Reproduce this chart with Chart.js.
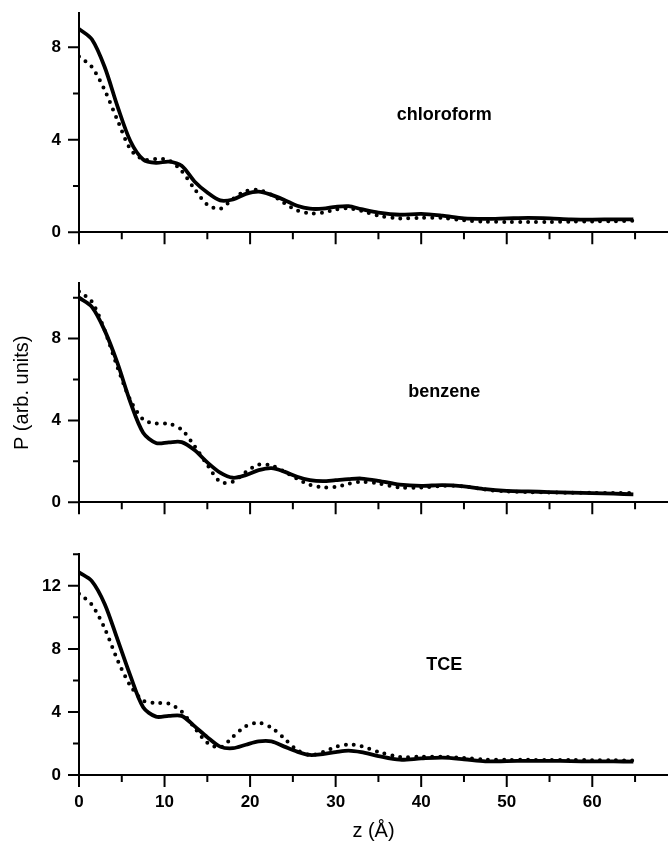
<!DOCTYPE html>
<html>
<head>
<meta charset="utf-8">
<script src="https://cdn.jsdelivr.net/npm/chart.js@4.4.1/dist/chart.umd.min.js"></script>
<style>
  body { margin: 0; background: #fff; }
  #wrap { position: relative; width: 668px; height: 841px; }
  canvas { position: absolute; left: 0; }
</style>
</head>
<body>
<div id="wrap">
  <canvas id="c1" width="668" height="260" style="top:0px"></canvas>
  <canvas id="c2" width="668" height="270" style="top:260px"></canvas>
  <canvas id="c3" width="668" height="311" style="top:530px"></canvas>
</div>
<script>
// z positions (Å) shared by every curve
const zValues = [0, 1.5, 3, 4.5, 6, 7.5, 9, 10.5, 12, 13.5, 15, 16.5, 18, 19.5, 21, 22.5, 24, 25.5,
  27, 28.5, 30, 31.5, 33, 35, 37.5, 40, 42.5, 45, 47.5, 50, 52.5, 55, 57.5, 60, 62.5, 64.8];

const chloroformSolid = [8.8, 8.35, 7.15, 5.45, 3.95, 3.15, 3.0, 3.06, 2.88, 2.2, 1.72, 1.38, 1.42, 1.66, 1.76, 1.62, 1.4, 1.15,
  1.02, 1.02, 1.1, 1.13, 1.0, 0.85, 0.76, 0.8, 0.72, 0.6, 0.58, 0.6, 0.62, 0.6, 0.56, 0.55, 0.56, 0.56];
const chloroformDotted = [7.6, 7.15, 6.15, 4.85, 3.6, 3.15, 3.17, 3.12, 2.65, 1.88, 1.2, 1.02, 1.45, 1.78, 1.83, 1.62, 1.26, 0.95,
  0.82, 0.85, 0.98, 1.04, 0.93, 0.72, 0.6, 0.63, 0.62, 0.52, 0.46, 0.45, 0.45, 0.45, 0.46, 0.47, 0.48, 0.5];

const benzeneSolid = [10.0, 9.55, 8.4, 6.8, 4.9, 3.4, 2.9, 2.93, 2.94, 2.55, 1.95, 1.45, 1.2, 1.33, 1.57, 1.67, 1.5, 1.25,
  1.08, 1.03, 1.08, 1.13, 1.16, 1.05, 0.86, 0.8, 0.84, 0.78, 0.64, 0.56, 0.53, 0.5, 0.47, 0.45, 0.42, 0.39];
const benzeneDotted = [10.3, 9.8, 8.4, 6.6, 5.0, 4.05, 3.85, 3.84, 3.55, 2.75, 1.83, 1.0, 1.01, 1.48, 1.84, 1.8, 1.5, 1.15,
  0.85, 0.73, 0.75, 0.9, 1.0, 0.92, 0.72, 0.72, 0.8, 0.78, 0.62, 0.53, 0.5, 0.48, 0.47, 0.46, 0.45, 0.45];

const tceSolid = [12.85, 12.3, 10.85, 8.6, 6.3, 4.3, 3.7, 3.75, 3.75, 3.1, 2.4, 1.8, 1.7, 1.92, 2.13, 2.13, 1.8, 1.48,
  1.27, 1.33, 1.45, 1.55, 1.45, 1.2, 0.97, 1.05, 1.1, 1.0, 0.87, 0.88, 0.9, 0.9, 0.88, 0.86, 0.86, 0.85];
const tceDotted = [11.5, 10.8, 9.3, 7.3, 5.67, 4.72, 4.57, 4.52, 4.02, 3.0, 2.05, 1.75, 2.43, 3.1, 3.32, 3.0, 2.32, 1.58,
  1.27, 1.45, 1.78, 1.93, 1.83, 1.47, 1.15, 1.16, 1.16, 1.08, 0.98, 0.96, 0.96, 0.95, 0.95, 0.94, 0.93, 0.92];

const xMajorTicks = [0, 10, 20, 30, 40, 50, 60];
const xMinorTicks = [5, 15, 25, 35, 45, 55, 65];

Chart.defaults.font.family = '"Liberation Sans", Arial, sans-serif';
Chart.defaults.color = '#000';

// tick marks (long/short) and the solvent name, placed through the chart scales
const decorPlugin = {
  id: 'decor',
  afterDraw(chart, args, opts) {
    const ctx = chart.ctx;
    const xs = chart.scales.x, ys = chart.scales.y;
    const area = chart.chartArea;
    ctx.save();
    ctx.strokeStyle = '#000';
    ctx.lineWidth = 2;
    ctx.beginPath();
    xMajorTicks.forEach(v => { const p = xs.getPixelForValue(v); ctx.moveTo(p, area.bottom); ctx.lineTo(p, area.bottom + 12); });
    xMinorTicks.forEach(v => { const p = xs.getPixelForValue(v); ctx.moveTo(p, area.bottom); ctx.lineTo(p, area.bottom + 7); });
    opts.yMajor.forEach(v => { const p = ys.getPixelForValue(v); ctx.moveTo(area.left, p); ctx.lineTo(area.left - 11, p); });
    opts.yMinor.forEach(v => { const p = ys.getPixelForValue(v); ctx.moveTo(area.left, p); ctx.lineTo(area.left - 6, p); });
    ctx.stroke();
    ctx.font = 'bold 18px "Liberation Sans", Arial, sans-serif';
    ctx.fillStyle = '#000';
    ctx.textAlign = 'center';
    ctx.textBaseline = 'middle';
    ctx.fillText(opts.name, xs.getPixelForValue(opts.labelAt[0]), ys.getPixelForValue(opts.labelAt[1]));
    ctx.restore();
  }
};

const panels = [
  { id: 'c1', name: 'chloroform', solid: chloroformSolid, dotted: chloroformDotted, yMax: 9.5,
    yMajor: [0, 4, 8], yMinor: [2, 6], padTop: 12.7, xHeight: 27.7, last: false, labelAt: [42.7, 5.08] },
  { id: 'c2', name: 'benzene', solid: benzeneSolid, dotted: benzeneDotted, yMax: 10.7,
    yMajor: [0, 4, 8], yMinor: [2, 6, 10], padTop: 23.3, xHeight: 27.7, last: false, labelAt: [42.7, 5.4], yTitle: true },
  { id: 'c3', name: 'TCE', solid: tceSolid, dotted: tceDotted, yMax: 14,
    yMajor: [0, 4, 8, 12], yMinor: [2, 6, 10, 14], padTop: 24.3, xHeight: 66, last: true, labelAt: [42.7, 7.0] }
];

panels.forEach(p => {
  new Chart(document.getElementById(p.id), {
    type: 'line',
    data: {
      datasets: [
        {
          data: zValues.map((z, i) => ({ x: z, y: p.solid[i] })),
          borderColor: '#000',
          borderWidth: 3.8,
          pointRadius: 0,
          tension: 0.3
        },
        {
          data: zValues.map((z, i) => ({ x: z, y: p.dotted[i] })),
          borderColor: '#000',
          borderWidth: 4,
          borderDash: [0, 8],
          borderCapStyle: 'round',
          pointRadius: 0,
          tension: 0.3
        }
      ]
    },
    options: {
      responsive: false,
      animation: false,
      layout: { padding: { top: p.padTop, left: 0, right: 0, bottom: 0 } },
      plugins: {
        legend: { display: false },
        tooltip: { enabled: false },
        decor: { name: p.name, yMajor: p.yMajor, yMinor: p.yMinor, labelAt: p.labelAt }
      },
      scales: {
        x: {
          type: 'linear',
          min: 0,
          max: 68.85,
          grid: { display: false, drawTicks: false },
          border: { display: true, color: '#000', width: 2 },
          afterBuildTicks: s => { s.ticks = xMajorTicks.map(v => ({ value: v })); },
          afterFit: s => { s.height = p.xHeight; s.paddingLeft = 0; s.paddingRight = 0; },
          ticks: {
            display: p.last,
            padding: 17,
            maxRotation: 0,
            font: { size: 17, weight: 'bold' }
          },
          title: {
            display: p.last,
            text: 'z (Å)',
            font: { size: 20, weight: 'normal', lineHeight: 1 },
            padding: { top: 0, bottom: 0 }
          }
        },
        y: {
          min: 0,
          max: p.yMax,
          grid: { display: false, drawTicks: false },
          border: { display: true, color: '#000', width: 2 },
          afterBuildTicks: s => { s.ticks = p.yMajor.map(v => ({ value: v })); },
          afterFit: s => { s.width = 79; s.paddingTop = 0; s.paddingBottom = 0; },
          ticks: {
            padding: 18,
            font: { size: 17, weight: 'bold' }
          },
          title: {
            display: !!p.yTitle,
            text: 'P (arb. units)',
            font: { size: 20, weight: 'normal' },
            padding: { top: 10, bottom: 0 }
          }
        }
      }
    },
    plugins: [decorPlugin]
  });
});
</script>
</body>
</html>
